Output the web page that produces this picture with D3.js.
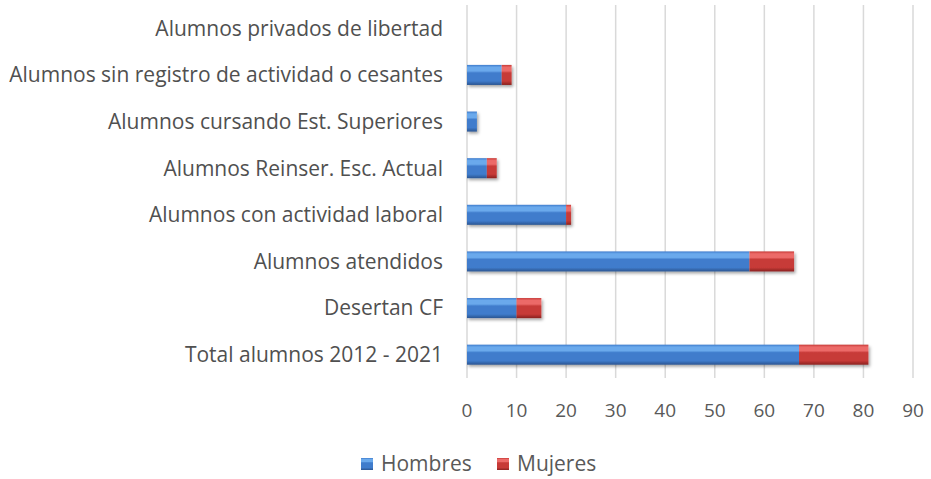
<!DOCTYPE html>
<html>
<head>
<meta charset="utf-8">
<script src="https://cdn.jsdelivr.net/npm/d3@7"></script>
<style>
  body { margin: 0; background: #fff; }
  text { font-family: "Open Sans", "Liberation Sans", sans-serif; }
</style>
</head>
<body>
<div id="chart"></div>
<script>
var categories = [
  "Alumnos privados de libertad",
  "Alumnos sin registro de actividad o cesantes",
  "Alumnos cursando Est. Superiores",
  "Alumnos Reinser. Esc. Actual",
  "Alumnos con actividad laboral",
  "Alumnos atendidos",
  "Desertan CF",
  "Total alumnos 2012 - 2021"
];
var hombres = [0, 7, 2, 4, 20, 57, 10, 67];
var mujeres = [0, 2, 0, 2, 1, 9, 5, 14];
var xTicks = [0, 10, 20, 30, 40, 50, 60, 70, 80, 90];
var seriesNames = ["Hombres", "Mujeres"];

var width = 931, height = 479;
var margin = {top: 5, right: 18, bottom: 101, left: 467};

var svg = d3.select("#chart").append("svg")
    .attr("width", width)
    .attr("height", height);

var defs = svg.append("defs");

function grad(id, light, mid, dark) {
  var g = defs.append("linearGradient").attr("id", id)
      .attr("x1", 0).attr("y1", 0).attr("x2", 0).attr("y2", 1);
  g.append("stop").attr("offset", "0%").attr("stop-color", mid);
  g.append("stop").attr("offset", "12%").attr("stop-color", light);
  g.append("stop").attr("offset", "30%").attr("stop-color", light);
  g.append("stop").attr("offset", "40%").attr("stop-color", mid);
  g.append("stop").attr("offset", "80%").attr("stop-color", mid);
  g.append("stop").attr("offset", "100%").attr("stop-color", dark);
}
grad("gBlue", "#6aa9ec", "#3f7ccc", "#2b5591");
grad("gRed", "#ec6a68", "#c73a37", "#8a2220");

var sh = defs.append("filter").attr("id", "shadow")
    .attr("x", "-10%").attr("y", "-20%").attr("width", "130%").attr("height", "160%");
sh.append("feDropShadow").attr("dx", 1.5).attr("dy", 2).attr("stdDeviation", 1.5)
    .attr("flood-color", "#000").attr("flood-opacity", 0.35);

var x = d3.scaleLinear().domain([0, 90])
    .range([margin.left, width - margin.right]);

var y = d3.scaleBand().domain(categories)
    .range([margin.top, height - margin.bottom])
    .paddingInner(0.57).paddingOuter(0.285);

// gridlines
svg.append("g").selectAll("line")
  .data(xTicks)
  .enter().append("line")
    .attr("x1", function(d) { return x(d); })
    .attr("x2", function(d) { return x(d); })
    .attr("y1", margin.top)
    .attr("y2", height - margin.bottom)
    .attr("stroke", "#d9d9d9")
    .attr("stroke-width", 1.5);

// tick labels
svg.append("g").selectAll("text")
  .data(xTicks)
  .enter().append("text")
    .attr("x", function(d) { return x(d); })
    .attr("y", 417)
    .attr("text-anchor", "middle")
    .attr("fill", "#595959")
    .style("font-size", "19px")
    .text(function(d) { return d; });

// category labels
svg.append("g").selectAll("text")
  .data(categories)
  .enter().append("text")
    .attr("x", 443)
    .attr("y", function(d) { return y(d) + y.bandwidth() / 2; })
    .attr("dy", "0.35em")
    .attr("text-anchor", "end")
    .attr("fill", "#505050")
    .style("font-size", "21px")
    .text(function(d) { return d; });

// stacked bars
var rows = categories.map(function(c, i) {
  return {cat: c, h: hombres[i], m: mujeres[i]};
});

var bars = svg.append("g").attr("filter", "url(#shadow)");

bars.selectAll(".hom")
  .data(rows)
  .enter().append("rect")
    .attr("class", "hom")
    .attr("x", x(0))
    .attr("y", function(d) { return y(d.cat); })
    .attr("width", function(d) { return x(d.h) - x(0); })
    .attr("height", y.bandwidth())
    .attr("fill", "url(#gBlue)");

bars.selectAll(".muj")
  .data(rows)
  .enter().append("rect")
    .attr("class", "muj")
    .attr("x", function(d) { return x(d.h); })
    .attr("y", function(d) { return y(d.cat); })
    .attr("width", function(d) { return x(d.h + d.m) - x(d.h); })
    .attr("height", y.bandwidth())
    .attr("fill", "url(#gRed)");

// legend
var legX = [361, 497];
var leg = svg.append("g").selectAll("g")
  .data(seriesNames)
  .enter().append("g")
    .attr("transform", function(d, i) { return "translate(" + legX[i] + ",458)"; });

leg.append("rect")
    .attr("width", 12).attr("height", 12)
    .attr("fill", function(d, i) { return i === 0 ? "url(#gBlue)" : "url(#gRed)"; });

leg.append("text")
    .attr("x", 20).attr("y", 6)
    .attr("dy", "0.35em")
    .attr("fill", "#595959")
    .style("font-size", "21px")
    .text(function(d) { return d; });
</script>
</body>
</html>
